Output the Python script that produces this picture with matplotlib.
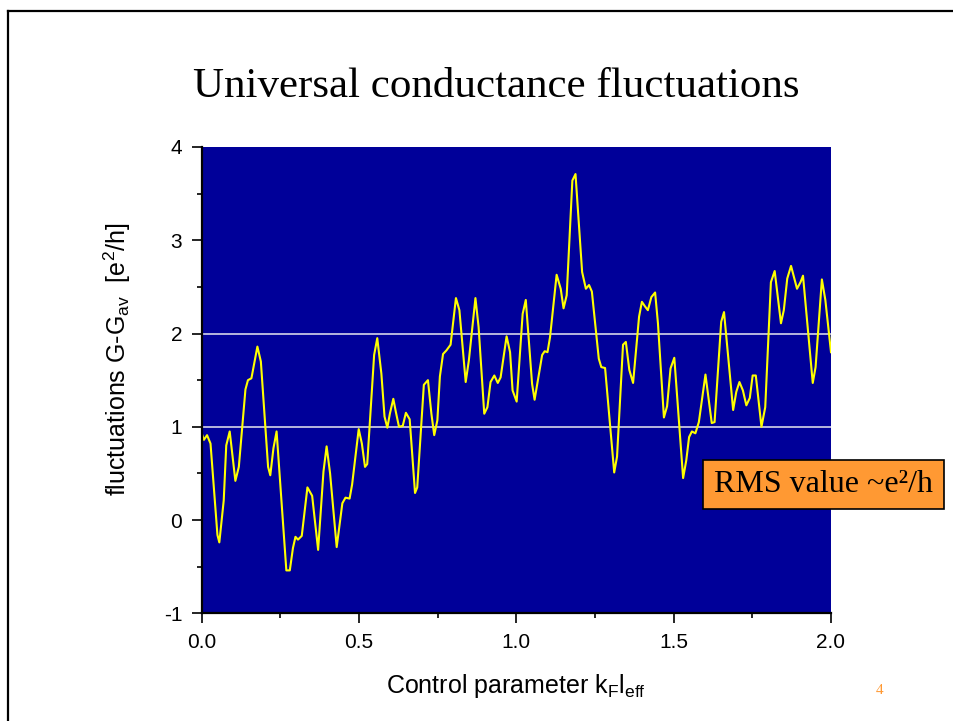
import matplotlib
matplotlib.use("Agg")
import matplotlib.pyplot as plt
from matplotlib.patches import Rectangle
from matplotlib.lines import Line2D
from matplotlib.ticker import MultipleLocator

# conductance fluctuation trace, G - G_av in units of e^2/h
k_param = [0.000, 0.007, 0.017, 0.028, 0.050, 0.056, 0.070, 0.078, 0.089, 0.107,
           0.118, 0.139, 0.147, 0.158, 0.177, 0.188, 0.211, 0.218, 0.228, 0.238,
           0.269, 0.280, 0.290, 0.298, 0.306, 0.318, 0.336, 0.351, 0.370, 0.387,
           0.397, 0.408, 0.429, 0.447, 0.457, 0.470, 0.478, 0.499, 0.509, 0.519,
           0.526, 0.548, 0.558, 0.571, 0.581, 0.590, 0.598, 0.609, 0.617, 0.627,
           0.639, 0.649, 0.661, 0.678, 0.685, 0.706, 0.719, 0.730, 0.739, 0.749,
           0.757, 0.767, 0.778, 0.791, 0.808, 0.819, 0.839, 0.849, 0.870, 0.880,
           0.898, 0.908, 0.918, 0.930, 0.941, 0.950, 0.969, 0.980, 0.988, 1.001,
           1.020, 1.030, 1.050, 1.058, 1.082, 1.090, 1.099, 1.107, 1.128, 1.141,
           1.150, 1.160, 1.178, 1.188, 1.209, 1.221, 1.231, 1.240, 1.262, 1.270,
           1.282, 1.311, 1.320, 1.339, 1.348, 1.359, 1.371, 1.390, 1.399, 1.409,
           1.418, 1.429, 1.441, 1.450, 1.469, 1.479, 1.490, 1.502, 1.530, 1.540,
           1.549, 1.558, 1.569, 1.580, 1.601, 1.621, 1.630, 1.651, 1.660, 1.689,
           1.699, 1.709, 1.720, 1.731, 1.742, 1.751, 1.761, 1.779, 1.791, 1.809,
           1.821, 1.841, 1.850, 1.861, 1.873, 1.892, 1.903, 1.911, 1.942, 1.951,
           1.971, 1.982, 2.000]
dG = [0.93, 0.86, 0.91, 0.82, -0.16, -0.24, 0.21, 0.80, 0.95, 0.42,
      0.57, 1.40, 1.50, 1.52, 1.86, 1.70, 0.57, 0.48, 0.77, 0.95,
      -0.54, -0.54, -0.30, -0.18, -0.21, -0.17, 0.35, 0.26, -0.32, 0.52,
      0.79, 0.50, -0.29, 0.18, 0.24, 0.23, 0.38, 0.975, 0.82, 0.57,
      0.60, 1.77, 1.95, 1.57, 1.11, 0.99, 1.14, 1.30, 1.16, 1.00,
      1.01, 1.15, 1.08, 0.29, 0.35, 1.45, 1.50, 1.14, 0.91, 1.07,
      1.54, 1.78, 1.82, 1.88, 2.38, 2.25, 1.48, 1.71, 2.38, 2.07,
      1.14, 1.21, 1.48, 1.55, 1.47, 1.53, 1.97, 1.80, 1.39, 1.27,
      2.21, 2.36, 1.46, 1.29, 1.77, 1.81, 1.80, 1.96, 2.63, 2.48,
      2.27, 2.41, 3.64, 3.71, 2.66, 2.48, 2.52, 2.45, 1.73, 1.64,
      1.63, 0.51, 0.68, 1.88, 1.91, 1.61, 1.47, 2.18, 2.34, 2.29,
      2.25, 2.39, 2.44, 2.11, 1.10, 1.22, 1.625, 1.74, 0.45, 0.64,
      0.89, 0.95, 0.93, 1.05, 1.56, 1.04, 1.05, 2.125, 2.23, 1.18,
      1.375, 1.48, 1.39, 1.23, 1.31, 1.55, 1.55, 1.00, 1.21, 2.55,
      2.67, 2.11, 2.25, 2.59, 2.725, 2.48, 2.55, 2.62, 1.47, 1.64,
      2.58, 2.36, 1.80]

ref_levels = [1, 2]
x_ticks = [0.0, 0.5, 1.0, 1.5, 2.0]
x_ticklabels = ["0.0", "0.5", "1.0", "1.5", "2.0"]
y_ticks = [-1, 0, 1, 2, 3, 4]

W, H = 954, 721
plt.rcParams['font.family'] = 'Liberation Sans'
plt.rcParams['mathtext.fontset'] = 'custom'
plt.rcParams['mathtext.rm'] = 'Liberation Sans'
plt.rcParams['mathtext.it'] = 'Liberation Sans'
plt.rcParams['axes.unicode_minus'] = False

fig = plt.figure(figsize=(W / 100, H / 100), dpi=100)
fig.patch.set_facecolor('white')

# slide frame (only top and left edges fall inside)
fig.add_artist(Line2D([8 / W, 8 / W], [0, 1 - 11 / H], transform=fig.transFigure,
                      color='black', lw=1.6))
fig.add_artist(Line2D([8 / W, 1], [1 - 11 / H, 1 - 11 / H], transform=fig.transFigure,
                      color='black', lw=1.6))

ax = fig.add_axes([201.7 / W, 1 - 613.3 / H, 629.3 / W, 466.3 / H])
ax.set_facecolor('#000099')

for lev in ref_levels:
    ax.axhline(lev, color='#e6e6f0', lw=1.1, zorder=1)
ax.plot(k_param, dG, color='#ffff00', lw=1.5, zorder=2)

ax.set_xlim(0, 2)
ax.set_ylim(-1, 4)
ax.set_xticks(x_ticks)
ax.set_xticklabels(x_ticklabels)
ax.set_yticks(y_ticks)
ax.xaxis.set_minor_locator(MultipleLocator(0.25))
ax.yaxis.set_minor_locator(MultipleLocator(0.5))
ax.tick_params(which='major', direction='out', length=7, width=1.2, labelsize=15, pad=7)
ax.tick_params(which='minor', direction='out', length=3.5, width=1.2)

for s in ['top', 'right']:
    ax.spines[s].set_visible(False)
for s in ['left', 'bottom']:
    ax.spines[s].set_linewidth(1.6)

fig.text(117 / W, 1 - 359 / H, r'fluctuations G-G$_{\rm av}$  [e$^{\rm 2}$/h]',
         rotation=90, ha='center', va='center', fontsize=18)
fig.text(516 / W, 1 - 686 / H, r'Control parameter k$_{\rm F}$l$_{\rm eff}$',
         ha='center', va='center', fontsize=18)

fig.text(496 / W, 1 - 97 / H, 'Universal conductance fluctuations',
         ha='center', va='baseline', fontsize=31, family='Liberation Serif')

# RMS note box
fig.add_artist(Rectangle((703 / W, 1 - 509 / H), 241 / W, 49 / H, transform=fig.transFigure,
                         facecolor='#ff9933', edgecolor='black', lw=1.2, zorder=5))
fig.text(823.5 / W, 1 - 484.5 / H, 'RMS value ~e\u00b2/h', ha='center', va='center',
         fontsize=23, family='Liberation Serif', zorder=6)

fig.text(880 / W, 1 - 690 / H, '4', ha='center', va='center', fontsize=11,
         color='#ff9933', family='Liberation Serif')

fig.savefig('out.png', dpi=100)
